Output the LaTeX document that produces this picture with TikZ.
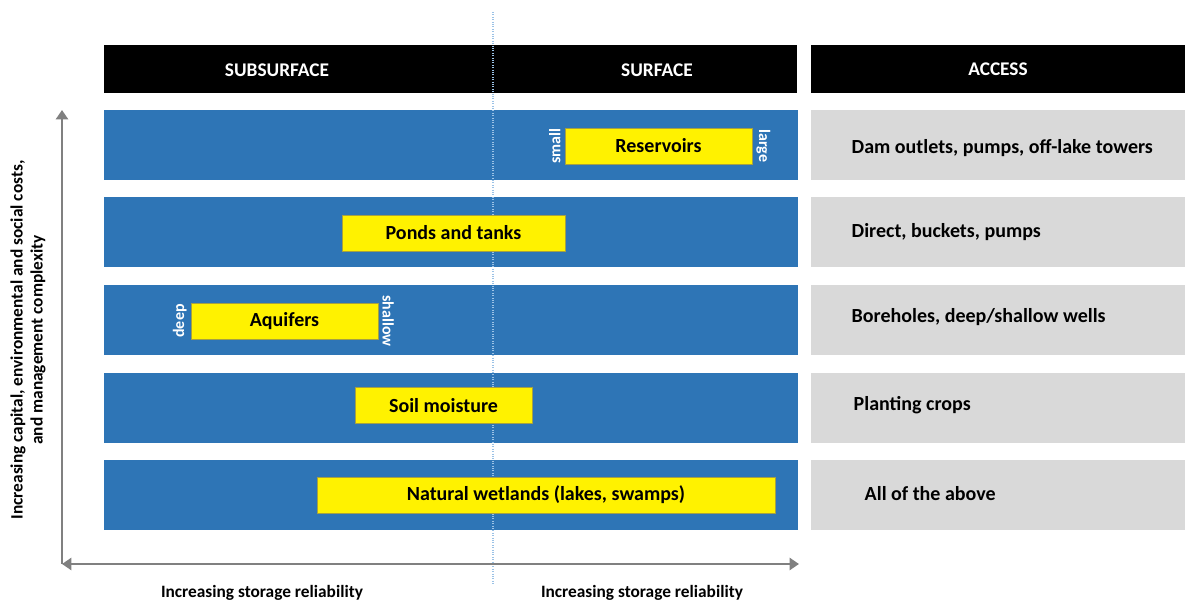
\documentclass[tikz,border=0pt]{standalone}
\usepackage{fontspec}
\setmainfont{Carlito}
\definecolor{barblue}{RGB}{46,117,182}
\definecolor{accgray}{RGB}{217,217,217}
\definecolor{axisgray}{RGB}{128,128,128}
\definecolor{divblue}{RGB}{155,194,230}
\usetikzlibrary{arrows.meta, positioning}

\begin{document}
\begin{tikzpicture}[
    x=0.75pt, y=-0.75pt,
    every node/.style={font=\bfseries},
    header/.style={fill=black, text=white, inner sep=0pt, minimum height=36pt, font=\fontsize{14.5}{16}\bfseries},
    bar/.style={fill=barblue, inner sep=0pt, minimum width=520.5pt, minimum height=52.5pt},
    accbox/.style={fill=accgray, inner sep=0pt, minimum width=280.5pt, minimum height=52.5pt},
    store/.style={fill=yellow, draw=yellow!60!black, line width=0.3pt, inner sep=0pt, minimum height=27pt, font=\fontsize{15}{17}\bfseries},
    acctext/.style={anchor=west, font=\fontsize{15}{17}\bfseries},
    tag/.style={text=white, font=\fontsize{12}{13}\bfseries, inner sep=0pt},
    axislabel/.style={font=\fontsize{13}{15}\bfseries, align=center},
    axis/.style={draw=axisgray, line width=2.2pt}
]
    \useasboundingbox (0,0) rectangle (1189,605);

    % headers
    \node[header, minimum width=519.75pt] (hdrstore) at (450.5,69) {};
    \node[header, minimum width=280.5pt] (hdraccess) at (998,69) {ACCESS};
    \node[text=white, font=\fontsize{14.5}{16}\bfseries] (subsurf) at (277,70) {SUBSURFACE};
    \node[text=white, font=\fontsize{14.5}{16}\bfseries] (surf) at (657,70) {SURFACE};

    % rows
    \node[bar] (bar1) at (451,145) {};
    \node[bar] (bar2) at (451,232.5) {};
    \node[bar] (bar3) at (451,320) {};
    \node[bar] (bar4) at (451,408) {};
    \node[bar] (bar5) at (451,495) {};

    \node[accbox] (acc1) at (998,145) {};
    \node[accbox] (acc2) at (998,232.5) {};
    \node[accbox] (acc3) at (998,320) {};
    \node[accbox] (acc4) at (998,408) {};
    \node[accbox] (acc5) at (998,495) {};

    % divider
    \coordinate (divtop) at (493,12);
    \coordinate (divbot) at (493,585);
    \draw[divblue, densely dotted, line width=0.8pt] (divtop) -- (divbot);

    % storage types
    \node[store, minimum width=140.25pt] (reservoirs) at (658.5,146) {Reservoirs};
    \node[store, minimum width=167.25pt] (ponds) at (453.5,233) {Ponds and tanks};
    \node[store, minimum width=140.25pt] (aquifers) at (284.5,321) {Aquifers};
    \node[store, minimum width=132.75pt] (soil) at (443.5,405.5) {Soil moisture};
    \node[store, minimum width=343.5pt] (wetlands) at (546,495) {Natural wetlands (lakes, swamps)};

    \node[tag, rotate=90, left=3pt of reservoirs.west, anchor=south] (small) {small};
    \node[tag, rotate=-90, right=3pt of reservoirs.east, anchor=south] (large) {large};
    \node[tag, rotate=90, left=3pt of aquifers.west, anchor=south] (deep) {deep};
    \node[tag, rotate=-90, right=3pt of aquifers.east, anchor=south] (shallow) {shallow};

    % access
    \node[acctext] (dam) at (847,148) {Dam outlets, pumps, off-lake towers};
    \node[acctext] (direct) at (847,232) {Direct, buckets, pumps};
    \node[acctext] (bore) at (847,317) {Boreholes, deep/shallow wells};
    \node[acctext] (crops) at (849,405) {Planting crops};
    \node[acctext] (all) at (860,494) {All of the above};

    % axes
    \coordinate (origin) at (62,564);
    \coordinate (ytop) at (62,110);
    \coordinate (xend) at (799,564);
    \draw[axis, -{Triangle[width=9pt,length=7pt]}] (origin) -- (ytop);
    \draw[axis, {Triangle[width=9pt,length=7pt]}-{Triangle[width=9pt,length=7pt]}] (origin) -- (xend);

    \node[axislabel, rotate=90] (costs) at (28,340) {Increasing capital, environmental and social costs,\\and management complexity};
    \node[axislabel] (rel1) at (262,593) {Increasing storage reliability};
    \node[axislabel] (rel2) at (642,593) {Increasing storage reliability};
\end{tikzpicture}
\end{document}
